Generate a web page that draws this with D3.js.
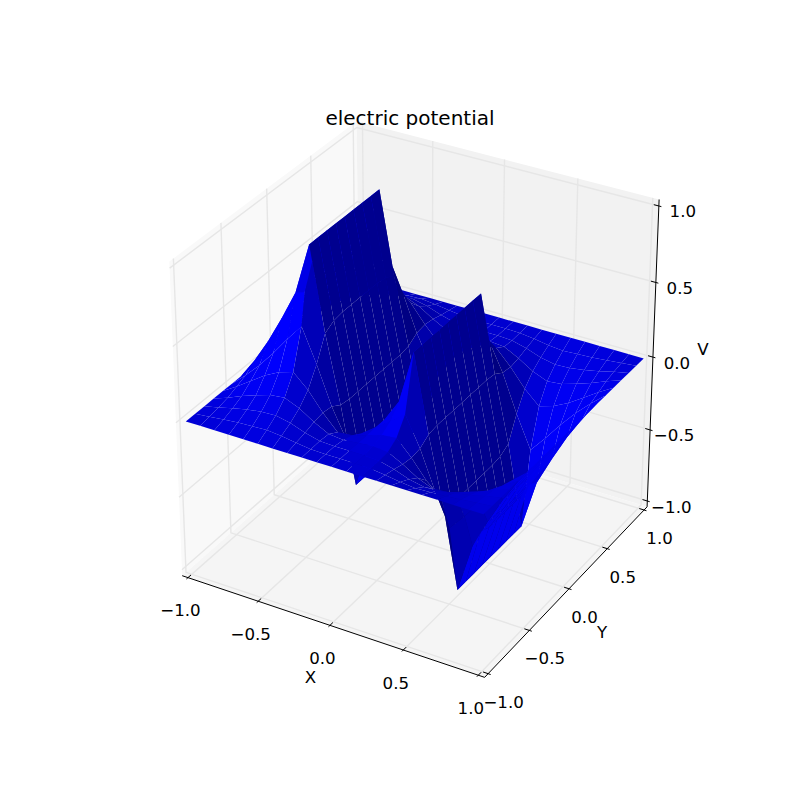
<!DOCTYPE html>
<html><head><meta charset="utf-8"><style>html,body{margin:0;padding:0;background:#fff}svg{display:block}text{font-family:"DejaVu Sans";fill:#000}</style>
<script src="https://cdn.jsdelivr.net/npm/d3@7"></script></head><body><script>
const xValues=[-1,-.9,-.8,-.7,-.6,-.5,-.4,-.3,-.2,-.1,0,.1,.2,.3,.4,.5,.6,.7,.8,.9,1];
const yValues=[-1,-.9,-.8,-.7,-.6,-.5,-.4,-.3,-.2,-.1,0,.1,.2,.3,.4,.5,.6,.7,.8,.9,1];
// potential[row for y][column for x]
const potential=[
[0,0,0,0,0,0,0,0,0,0,0,0,0,0,0,0,0,0,0,0,0],
[0,.01,.02,.03,.035,.04,.03,.015,.003,0,0,0,-.003,-.015,-.03,-.04,-.035,-.03,-.02,-.01,0],
[0,.02,.045,.065,.08,.085,.065,.03,.005,0,0,0,-.005,-.03,-.065,-.085,-.08,-.065,-.045,-.02,0],
[0,.035,.075,.11,.14,.15,.11,.05,0,-.01,0,.01,0,-.05,-.11,-.15,-.14,-.11,-.075,-.035,0],
[0,.06,.125,.19,.24,.27,.18,.06,-.04,-.03,0,.03,.04,-.06,-.18,-.27,-.24,-.19,-.125,-.06,0],
[0,.085,.18,.29,.41,.52,.30,.05,-.145,-.07,0,.07,.145,-.05,-.30,-.52,-.41,-.29,-.18,-.085,0],
[0,.135,.29,.47,.665,1,.455,.01,-.5,-.15,0,.15,.5,-.01,-.455,-1,-.665,-.47,-.29,-.135,0],
[0,.145,.29,.475,.62,1,.49,0,-.5,-.16,0,.16,.5,0,-.49,-1,-.62,-.475,-.29,-.145,0],
[0,.155,.30,.485,.65,1,.5,0,-.5,-.16,0,.16,.5,0,-.5,-1,-.65,-.485,-.30,-.155,0],
[0,.16,.31,.49,.65,1,.5,0,-.5,-.16,0,.16,.5,0,-.5,-1,-.65,-.49,-.31,-.16,0],
[0,.16,.31,.49,.65,1,.5,0,-.5,-.16,0,.16,.5,0,-.5,-1,-.65,-.49,-.31,-.16,0],
[0,.16,.31,.49,.65,1,.5,0,-.5,-.16,0,.16,.5,0,-.5,-1,-.65,-.49,-.31,-.16,0],
[0,.155,.30,.485,.65,1,.5,0,-.5,-.16,0,.16,.5,0,-.5,-1,-.65,-.485,-.30,-.155,0],
[0,.145,.29,.475,.62,1,.49,0,-.5,-.16,0,.16,.5,0,-.49,-1,-.62,-.475,-.29,-.145,0],
[0,.135,.29,.47,.665,1,.455,.01,-.5,-.15,0,.15,.5,-.01,-.455,-1,-.665,-.47,-.29,-.135,0],
[0,.085,.18,.29,.41,.52,.30,.05,-.145,-.07,0,.07,.145,-.05,-.30,-.52,-.41,-.29,-.18,-.085,0],
[0,.06,.125,.19,.24,.27,.18,.06,-.04,-.03,0,.03,.04,-.06,-.18,-.27,-.24,-.19,-.125,-.06,0],
[0,.035,.075,.11,.14,.15,.11,.05,0,-.01,0,.01,0,-.05,-.11,-.15,-.14,-.11,-.075,-.035,0],
[0,.02,.045,.065,.08,.085,.065,.03,.005,0,0,0,-.005,-.03,-.065,-.085,-.08,-.065,-.045,-.02,0],
[0,.01,.02,.03,.035,.04,.03,.015,.003,0,0,0,-.003,-.015,-.03,-.04,-.035,-.03,-.02,-.01,0],
[0,0,0,0,0,0,0,0,0,0,0,0,0,0,0,0,0,0,0,0,0]];
const tickValues=[-1,-.5,0,.5,1];
const tickLabels=["\u22121.0","\u22120.5","0.0","0.5","1.0"];
const titleText="electric potential", xName="X", yName="Y", zName="V";

const W=800,H=796;
const svg=d3.select("body").append("svg").attr("width",W).attr("height",H);
// view: elevation 30, azimuth -60, distance 10
const el=30*Math.PI/180, az=-60*Math.PI/180, dist=10;
const n=[Math.cos(el)*Math.cos(az),Math.cos(el)*Math.sin(az),Math.sin(el)];
const u=[-n[1],n[0],0].map(v=>v/Math.hypot(n[0],n[1]));
const v=[n[1]*u[2]-n[2]*u[1],n[2]*u[0]-n[0]*u[2],n[0]*u[1]-n[1]*u[0]];
const dot=(a,b)=>a[0]*b[0]+a[1]*b[1]+a[2]*b[2];
const unit=d3.scaleLinear().domain([-1,1]).range([-.5,.5]);
const sx=d3.scaleLinear().domain([-.095,.09]).range([100,720]);
const sy=d3.scaleLinear().domain([-.095,.09]).range([716.4,79.6]);
function proj(p){const d=p.map(unit),w=dist-dot(n,d);
  return {x:sx(dot(u,d)/w),y:sy(dot(v,d)/w),z:-dist/w};}
const lo=-1-1/24, hi=1+1/24;
const P=p=>{const q=proj(p);return [q.x,q.y];};
const line=d3.line();
const panes=[
 {c:"rgb(249,249,249)",pts:[[lo,lo,lo],[lo,hi,lo],[lo,hi,hi],[lo,lo,hi]]},
 {c:"rgb(242,242,242)",pts:[[lo,hi,lo],[hi,hi,lo],[hi,hi,hi],[lo,hi,hi]]},
 {c:"rgb(245,245,245)",pts:[[lo,lo,lo],[hi,lo,lo],[hi,hi,lo],[lo,hi,lo]]}];
svg.append("g").selectAll("path").data(panes).join("path")
 .attr("d",d=>line(d.pts.map(P))+"Z").attr("fill",d=>d.c);
const grids=[];
tickValues.forEach(t=>{
 grids.push([[t,lo,lo],[t,hi,lo],[t,hi,hi]]);
 grids.push([[hi,t,lo],[lo,t,lo],[lo,t,hi]]);
 grids.push([[lo,lo,t],[lo,hi,t],[hi,hi,t]]);
});
svg.append("g").selectAll("path").data(grids).join("path")
 .attr("d",d=>line(d.map(P))).attr("fill","none").attr("stroke","#e6e6e6").attr("stroke-width",1.4);
const axes=[[[lo,lo,lo],[hi,lo,lo]],[[hi,lo,lo],[hi,hi,lo]],[[hi,hi,lo],[hi,hi,hi]]];
svg.append("g").selectAll("path").data(axes).join("path")
 .attr("d",d=>line(d.map(P))).attr("stroke","#000").attr("stroke-width",1).attr("fill","none");
const inw=2/12*.2, outw=2/12*.1;
const ticks=[];
tickValues.forEach(t=>{
 ticks.push([[t,lo-outw,lo],[t,lo+inw,lo]]);
 ticks.push([[hi+outw,t,lo],[hi-inw,t,lo]]);
 ticks.push([[hi+outw,hi,t],[hi-inw,hi,t]]);
});
svg.append("g").selectAll("path").data(ticks).join("path")
 .attr("d",d=>line(d.map(P))).attr("stroke","#000").attr("stroke-width",1).attr("fill","none");
// tick labels
const labels=[];
tickValues.forEach((t,i)=>{
 const a=P([t,lo,lo]),b=P([hi,t,lo]),c=P([hi,hi,t]);
 labels.push({s:tickLabels[i],x:a[0]-7.5,y:a[1]+33});
 labels.push({s:tickLabels[i],x:b[0]+15.5,y:b[1]+28.5});
 labels.push({s:tickLabels[i],x:c[0]+24,y:c[1]+6});
});
const lg=svg.append("g").attr("font-size",16.67).attr("text-anchor","middle").attr("dominant-baseline","central");
lg.selectAll("text").data(labels).join("text").attr("x",d=>d.x).attr("y",d=>d.y).text(d=>d.s);
const mid=(p,dx,dy)=>{const q=P(p);return {x:q[0]+dx,y:q[1]+dy};};
const names=[{s:xName,...mid([0,lo,lo],-19.5,52)},{s:yName,...mid([hi,0,lo],33,44)},{s:zName,...mid([hi,hi,0],50,-8)}];
lg.append("g").selectAll("text").data(names).join("text").attr("x",d=>d.x).attr("y",d=>d.y).text(d=>d.s);
svg.append("text").attr("x",410).attr("y",118).attr("font-size",20).attr("text-anchor","middle").attr("dominant-baseline","central").text(titleText);
// surface
const light=[-1,-1,.5].map(q=>q/1.5);
const polys=[];
for(let j=0;j<yValues.length-1;j++)for(let i=0;i<xValues.length-1;i++){
 const pts=[[i,j],[i,j+1],[i+1,j+1],[i+1,j]].map(([a,b])=>[xValues[a],yValues[b],potential[b][a]]);
 const e1=[0,1,2].map(k=>pts[0][k]-pts[1][k]), e2=[0,1,2].map(k=>pts[1][k]-pts[2][k]);
 const nn=[e1[1]*e2[2]-e1[2]*e2[1],e1[2]*e2[0]-e1[0]*e2[2],e1[0]*e2[1]-e1[1]*e2[0]];
 const len=Math.hypot(...nn);
 const s=(nn[2]<0?-1:1);
 const pr=pts.map(proj);
 polys.push({d:line(pr.map(q=>[q.x,q.y]))+"Z",z:d3.mean(pr,q=>q.z),shade:s*dot(nn,light)/len});
}
polys.sort((a,b)=>d3.descending(a.z,b.z));
const norm=d3.scaleLinear().domain(d3.extent(polys,d=>d.shade)).range([.5,1]);
svg.append("g").selectAll("path").data(polys).join("path")
 .attr("d",d=>d.d).attr("fill",d=>`rgb(0,0,${Math.round(255*norm(d.shade))})`);
</script></body></html>
